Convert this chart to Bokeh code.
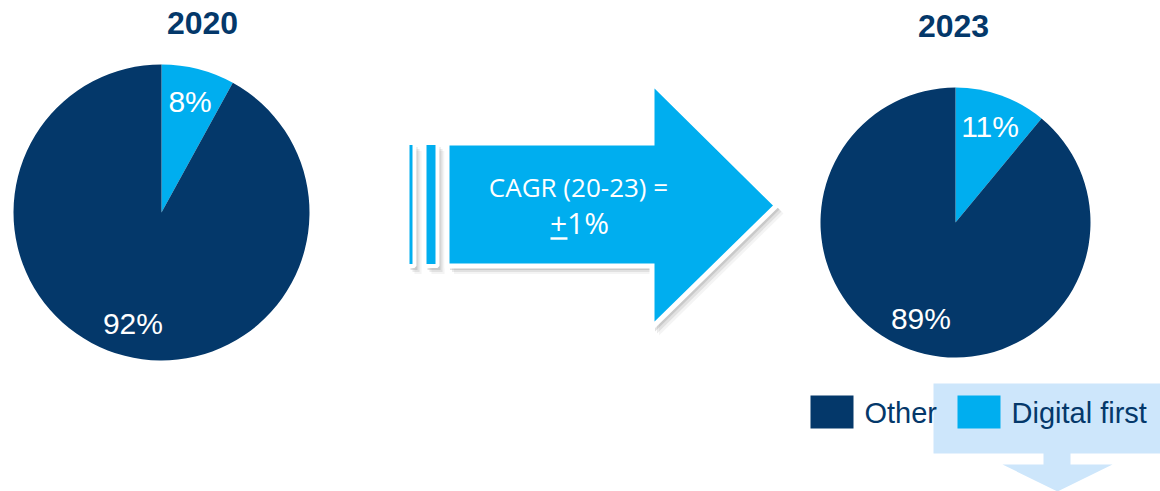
import math
from bokeh.plotting import figure
from bokeh.models import Range1d, ColumnDataSource
from bokeh.core.properties import value
from bokeh.embed import file_html
from bokeh.resources import INLINE

# ---- data ----
years = ["2020", "2023"]
categories = ["Digital first", "Other"]
shares_2020 = [8, 92]
shares_2023 = [11, 89]
cagr_label = "CAGR (20-23) ="
cagr_value = "+1%"

NAVY = "#04386a"
CYAN = "#00aeef"
PALE = "#cde6fb"
colors = [CYAN, NAVY]

W, H = 1160, 491
p = figure(width=W, height=H, output_backend="svg", toolbar_location=None,
           x_range=Range1d(0, W), y_range=Range1d(0, H),
           min_border=0, outline_line_color=None)
p.axis.visible = False
p.grid.visible = False
p.background_fill_color = "white"
p.border_fill_color = "white"

def Y(v):
    return H - v

FONT = value("Liberation Sans")

# ---- pies ----
pies = [(shares_2020, 161, 212, 148, 202, 22), (shares_2023, 955, 222, 135, 953, 25)]
for (shares, cx, cy, r, tx, ty), year in zip(pies, years):
    total = float(sum(shares))
    starts, ends, lx, ly, labels = [], [], [], [], []
    cum = 0.0
    for s in shares:
        a0 = math.pi / 2 - 2 * math.pi * (cum + s) / total
        a1 = math.pi / 2 - 2 * math.pi * cum / total
        starts.append(a0)
        ends.append(a1)
        mid = (a0 + a1) / 2
        lr = r - 33
        lx.append(cx + lr * math.cos(mid))
        ly.append(Y(cy) + lr * math.sin(mid))
        labels.append(f"{s}%")
        cum += s
    src = ColumnDataSource(dict(x=[cx] * len(shares), y=[Y(cy)] * len(shares),
                                start=starts, end=ends, color=colors,
                                lx=lx, ly=ly, label=labels))
    p.wedge(x="x", y="y", radius=r, start_angle="start", end_angle="end",
            fill_color="color", line_color=None, source=src)
    p.text(x="lx", y="ly", text="label", source=src, text_color="white",
           text_font=FONT, text_font_size="30px", text_align="center",
           text_baseline="middle")
    p.text(x=[tx], y=[Y(ty)], text=[year], text_color=NAVY, text_font=FONT,
           text_font_size="32px", text_font_style="bold", text_align="center",
           text_baseline="middle")

# ---- arrow ----
ax = [446.5, 651.5, 651.5, 776, 651.5, 651.5, 446.5]
ay = [142.5, 142.5, 82, 205, 327, 265.5, 265.5]
stripes = [(407, 414), (424, 437)]
st_top, st_bot = 142.5, 265.5
for dx, dy, alpha in [(7, 8, 0.08), (5, 6, 0.15), (3, 4, 0.22)]:
    p.patch([x + dx for x in ax], [Y(y) - dy for y in ay], fill_color="#777777",
            fill_alpha=alpha, line_color=None)
    for x0, x1 in stripes:
        p.patch([x0 + dx, x1 + dx, x1 + dx, x0 + dx],
                [Y(st_top) - dy, Y(st_top) - dy, Y(st_bot) - dy, Y(st_bot) - dy],
                fill_color="#777777", fill_alpha=alpha, line_color=None)
for x0, x1 in stripes:
    p.patch([x0, x1, x1, x0], [Y(st_top), Y(st_top), Y(st_bot), Y(st_bot)],
            fill_color=CYAN, line_color="white", line_width=4)
p.patch(ax, [Y(y) for y in ay], fill_color=CYAN, line_color="white",
        line_width=5, line_join="miter")
p.text(x=[578], y=[Y(186)], text=[cagr_label], text_color="white",
       text_font=value("Open Sans"), text_font_size="26px", text_align="center",
       text_baseline="middle")
p.text(x=[579], y=[Y(222)], text=[cagr_value], text_color="white",
       text_font=value("Open Sans"), text_font_size="30px", text_align="center",
       text_baseline="middle")
p.segment(x0=[550], y0=[Y(238)], x1=[567], y1=[Y(238)], line_color="white",
          line_width=2.5)

# ---- pale callout ----
p.patch([933, 1160, 1160, 1070, 1070, 1112, 1057, 1002, 1043, 1043, 933],
        [Y(v) for v in [383, 383, 453, 453, 464, 464, 491, 464, 464, 453, 453]],
        fill_color=PALE, line_color=None)

# ---- legend ----
leg_x = [810, 957]
leg_tx = [864, 1011]
for i, (cat, col) in enumerate(zip(categories[::-1], colors[::-1])):
    p.quad(left=[leg_x[i]], right=[leg_x[i] + 43], bottom=[Y(428)], top=[Y(395)],
           fill_color=col, line_color=None)
    p.text(x=[leg_tx[i]], y=[Y(412)], text=[cat], text_color=NAVY, text_font=FONT,
           text_font_size="29px", text_align="left", text_baseline="middle")

open("out.html", "w").write(file_html(p, INLINE))
